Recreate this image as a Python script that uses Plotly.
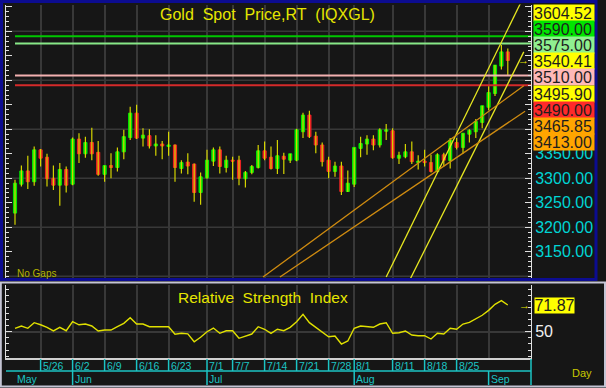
import numpy as np
import pandas as pd
import plotly.graph_objects as go

# ---------------- data ----------------
dates = pd.bdate_range("2025-05-20", "2025-09-04")

opens = [3229, 3288, 3315, 3293, 3358, 3343, 3300, 3286, 3318, 3288,
         3380, 3350, 3373, 3353, 3308, 3326, 3322, 3354, 3383, 3433,
         3382, 3387, 3366, 3370, 3365, 3368, 3320, 3333, 3329, 3271,
         3301, 3335, 3358, 3322, 3337, 3337, 3299, 3312, 3322, 3356,
         3343, 3320, 3345, 3337, 3337, 3395, 3429, 3386, 3368, 3337,
         3314, 3325, 3273, 3288, 3361, 3370, 3380, 3368, 3396, 3397,
         3341, 3344, 3354, 3332, 3335, 3332, 3314, 3348, 3336, 3373,
         3363, 3390, 3395, 3414, 3445, 3473, 3529, 3558]
highs = [3297, 3326, 3346, 3365, 3360, 3350, 3326, 3331, 3324, 3383,
         3392, 3385, 3403, 3376, 3326, 3351, 3363, 3399, 3446, 3450,
         3402, 3400, 3388, 3376, 3395, 3369, 3337, 3351, 3330, 3312,
         3358, 3363, 3365, 3346, 3344, 3346, 3315, 3327, 3368, 3375,
         3365, 3378, 3352, 3350, 3401, 3434, 3438, 3395, 3373, 3344,
         3334, 3334, 3316, 3363, 3385, 3388, 3388, 3402, 3411, 3402,
         3354, 3370, 3375, 3347, 3358, 3348, 3351, 3352, 3382, 3382,
         3392, 3400, 3421, 3448, 3488, 3531, 3572, 3565]
lows = [3205, 3283, 3278, 3285, 3324, 3283, 3276, 3244, 3271, 3286,
        3331, 3342, 3337, 3305, 3293, 3300, 3314, 3339, 3378, 3380,
        3365, 3361, 3346, 3339, 3346, 3293, 3310, 3308, 3252, 3246,
        3299, 3325, 3310, 3312, 3297, 3286, 3281, 3308, 3320, 3337,
        3318, 3309, 3309, 3331, 3335, 3382, 3382, 3351, 3324, 3300,
        3303, 3266, 3272, 3282, 3343, 3348, 3357, 3363, 3378, 3340,
        3329, 3341, 3329, 3318, 3324, 3312, 3312, 3324, 3320, 3359,
        3350, 3373, 3382, 3402, 3439, 3468, 3522, 3511]
closes = [3290, 3315, 3293, 3358, 3341, 3299, 3286, 3318, 3286, 3380,
          3350, 3373, 3350, 3308, 3326, 3322, 3354, 3385, 3433, 3382,
          3388, 3366, 3370, 3366, 3368, 3322, 3332, 3325, 3271, 3303,
          3337, 3358, 3324, 3337, 3335, 3300, 3312, 3324, 3356, 3341,
          3320, 3346, 3339, 3350, 3399, 3429, 3385, 3368, 3334, 3314,
          3325, 3273, 3290, 3363, 3371, 3380, 3368, 3399, 3399, 3342,
          3347, 3354, 3334, 3335, 3332, 3314, 3348, 3337, 3378, 3363,
          3392, 3398, 3416, 3448, 3475, 3531, 3558, 3540.41]
rsi = [52.8, 54.7, 52.8, 57.4, 55.7, 53.6, 50.6, 53.6, 50.8, 58.2,
       55.7, 56.3, 54.7, 50.6, 51.4, 51.4, 54.1, 56.9, 61.5, 56.3,
       56.3, 54.1, 54.1, 54.1, 54.1, 47.9, 48.7, 48.2, 41.8, 45.4,
       50.0, 53.0, 48.7, 50.8, 50.8, 44.6, 46.5, 48.1, 54.1, 52.0,
       48.7, 52.0, 50.8, 53.6, 58.2, 64.3, 57.4, 53.6, 49.2, 45.9,
       46.5, 39.9, 42.4, 52.8, 54.7, 54.1, 53.6, 56.3, 57.4, 48.7,
       49.2, 50.6, 47.3, 46.7, 46.7, 44.0, 48.7, 48.1, 52.8, 52.0,
       56.3, 57.7, 60.5, 63.5, 67.5, 72.5, 75.5, 71.87]

# date-row labels (tick labels)
week_label_dates = ["2025-05-26", "2025-06-02", "2025-06-09", "2025-06-16", "2025-06-23",
                    "2025-07-01", "2025-07-07", "2025-07-14", "2025-07-21", "2025-07-28",
                    "2025-08-01", "2025-08-11", "2025-08-18", "2025-08-25"]
month_label_dates = ["2025-05-20", "2025-06-02", "2025-07-01", "2025-08-01", "2025-09-01"]

# horizontal price levels
level_values = [3590.00, 3575.00, 3510.00, 3490.00]
level_colors = ["#00c800", "#88e888", "#f2b0b0", "#d42a2a"]

# trend lines: (start index, start price, end index, end price)
trend_x0 = [58.0, 61.7, 38.75, 41.4]
trend_p0 = [3098.5, 3093.0, 3098.5, 3098.5]
trend_x1 = [79.5, 79.5, 79.5, 79.7]
trend_p1 = [3671.0, 3558.0, 3489.0, 3437.0]
trend_colors = ["#e8e820", "#e8e820", "#d08c10", "#d08c10"]

# right-hand value boxes
box_values = [3604.52, 3590.00, 3575.00, 3540.41, 3510.00, 3495.90, 3490.00, 3465.85, 3413.00]
box_colors = ["#ffff00", "#00e400", "#90f090", "#ffff00", "#ffb8b8", "#ffff00", "#ff2a2a", "#ffa500", "#ffa500"]

# ---------------- geometry helpers ----------------
W, H = 606, 388
def px_x(x):
    return x / W
def px_y(y):
    return 1 - y / H

idx = list(range(len(dates)))
X_MIN, X_MAX = -1.406, 80.625
P_MIN, P_MAX = 3096.5, 3654.7
R_MIN, R_MAX = 28.2, 88.3

pos = {d.strftime("%Y-%m-%d"): i for i, d in enumerate(dates)}
week_idx = [pos[d] for d in week_label_dates]
month_idx = [pos[d] for d in month_label_dates]
grid_idx = sorted(set(week_idx + month_idx[1:]))

BG = "#161616"
GRID = "#383838"
AXIS = "#e0e0e0"
CYAN = "#00d4d4"
DCYAN = "#1cc4c4"
YEL = "#e6e600"
FONT = "Arial"

fig = go.Figure()

# wicks
wx, wy = [], []
for i, (h, l) in enumerate(zip(highs, lows)):
    wx += [i, i, None]
    wy += [l, h, None]
fig.add_trace(go.Scatter(x=wx, y=wy, mode="lines", line=dict(color="#d4d400", width=1.2),
                         hoverinfo="skip", showlegend=False, xaxis="x", yaxis="y"))

# horizontal levels
for lv, col in zip(level_values, level_colors):
    fig.add_trace(go.Scatter(x=[idx[0], X_MAX], y=[lv, lv], mode="lines",
                             line=dict(color=col, width=2), hoverinfo="skip",
                             showlegend=False, xaxis="x", yaxis="y"))

# trend lines
for x0, p0, x1, p1, c in zip(trend_x0, trend_p0, trend_x1, trend_p1, trend_colors):
    fig.add_trace(go.Scatter(x=[x0, x1], y=[p0, p1], mode="lines",
                             line=dict(color=c, width=1.3), hoverinfo="skip",
                             showlegend=False, xaxis="x", yaxis="y"))

# candle bodies
o = np.array(opens, float)
c = np.array(closes, float)
fig.add_trace(go.Candlestick(
    x=idx, open=o, close=c, high=np.maximum(o, c), low=np.minimum(o, c),
    increasing=dict(line=dict(color="#00ee00", width=1), fillcolor="#00ee00"),
    decreasing=dict(line=dict(color="#f02424", width=1), fillcolor="#f02424"),
    whiskerwidth=0, hoverinfo="skip", showlegend=False, xaxis="x", yaxis="y"))

# RSI
fig.add_trace(go.Scatter(x=idx, y=rsi, mode="lines", line=dict(color="#e0e000", width=1.4),
                         hoverinfo="skip", showlegend=False, xaxis="x2", yaxis="y2"))

shapes = []
# horizontal grid every 100 in price pane
for v in np.arange(3100, 3700, 100):
    shapes.append(dict(type="line", xref="x domain", x0=0, x1=1, yref="y", y0=v, y1=v,
                       line=dict(color=GRID, width=1.5), layer="below"))

# frames
shapes.append(dict(type="rect", xref="paper", yref="paper", x0=px_x(1.5), x1=px_x(596),
                   y0=px_y(279.5), y1=px_y(1.5), line=dict(color="#0c0c90", width=3)))
shapes.append(dict(type="rect", xref="paper", yref="paper", x0=px_x(0.8), x1=px_x(605),
                   y0=px_y(386.5), y1=px_y(282.5), line=dict(color="#c4c4d4", width=2)))

# date-row separators
shapes.append(dict(type="line", xref="paper", yref="paper", x0=px_x(6), x1=px_x(531),
                   y0=px_y(371), y1=px_y(371), line=dict(color=DCYAN, width=1.5)))
for i in week_idx:
    shapes.append(dict(type="line", xref="x2", yref="paper", x0=i, x1=i,
                       y0=px_y(359), y1=px_y(371), line=dict(color=DCYAN, width=1.5)))
for i in month_idx[1:]:
    shapes.append(dict(type="line", xref="x2", yref="paper", x0=i, x1=i,
                       y0=px_y(371), y1=px_y(385), line=dict(color=DCYAN, width=1.5)))
shapes.append(dict(type="line", xref="paper", yref="paper", x0=px_x(531), x1=px_x(531),
                   y0=px_y(359), y1=px_y(385), line=dict(color=DCYAN, width=1.5)))

ann = []
# titles
ann.append(dict(text="Gold\u00a0 Spot\u00a0 Price,RT\u00a0 (IQXGL)", x=px_x(267), y=px_y(14.5),
                xref="paper", yref="paper", showarrow=False, xanchor="center", yanchor="middle",
                font=dict(family=FONT, size=16, color=YEL)))
ann.append(dict(text="Relative\u00a0 Strength\u00a0 Index", x=px_x(263), y=px_y(297.5),
                xref="paper", yref="paper", showarrow=False, xanchor="center", yanchor="middle",
                font=dict(family=FONT, size=15.5, color=YEL)))
ann.append(dict(text="No Gaps", x=px_x(15), y=px_y(273.5), xref="paper", yref="paper",
                showarrow=False, xanchor="left", yanchor="middle",
                font=dict(family=FONT, size=10, color="#b4b400")))
ann.append(dict(text="Day", x=px_x(582), y=px_y(372.5), xref="paper", yref="paper",
                showarrow=False, xanchor="center", yanchor="middle",
                font=dict(family=FONT, size=11, color="#c8c800")))

# value boxes (stacked, contiguous)
BOX_TOP, BOX_H = 4.5, 16.2
for k, (v, col) in enumerate(zip(box_values, box_colors)):
    yc = BOX_TOP + BOX_H * (k + 0.5)
    ann.append(dict(text=f"{v:.2f}", x=px_x(533), y=px_y(yc), xref="paper", yref="paper",
                    showarrow=False, xanchor="left", yanchor="middle", align="left",
                    width=60, height=BOX_H, borderpad=0, bgcolor=col,
                    font=dict(family=FONT, size=16, color="#1e1e1e")))
ann.append(dict(text=f"{rsi[-1]:.2f}", x=px_x(534), y=rsi[-1], xref="paper", yref="y2",
                showarrow=False, xanchor="left", yanchor="middle",
                width=39, height=15, borderpad=0, bgcolor="#ffff00",
                font=dict(family=FONT, size=16, color="#1e1e1e")))
# last-value arrows
ann.append(dict(text="\u2192", x=px_x(523), y=closes[-1], xref="paper", yref="y",
                showarrow=False, xanchor="center", yanchor="middle",
                font=dict(family=FONT, size=11, color=YEL)))
ann.append(dict(text="\u2192", x=px_x(524), y=rsi[-1], xref="paper", yref="y2",
                showarrow=False, xanchor="center", yanchor="middle",
                font=dict(family=FONT, size=11, color=YEL)))

# date labels
DFONT = "Liberation Sans Narrow, Arial Narrow, Arial"
for i in week_idx:
    d = dates[i]
    ann.append(dict(text=f"{d.month}/{d.day}", x=i, y=px_y(366), xref="x2", yref="paper",
                    showarrow=False, xanchor="left", yanchor="middle", xshift=0,
                    font=dict(family=DFONT, size=10.5, color=DCYAN)))
for i in month_idx:
    ann.append(dict(text=dates[i].strftime("%b"), x=i, y=px_y(378.5), xref="x2", yref="paper",
                    showarrow=False, xanchor="left", yanchor="middle", xshift=0,
                    font=dict(family=DFONT, size=10.5, color=DCYAN)))

price_ticks = list(np.arange(3150, 3651, 50))
price_text = [f"{v:.2f}" if v <= 3350 else "" for v in price_ticks]

fig.update_layout(
    width=W, height=H, margin=dict(l=0, r=0, t=0, b=0),
    paper_bgcolor=BG, plot_bgcolor=BG, showlegend=False,
    shapes=shapes, annotations=ann,
    xaxis=dict(domain=[px_x(6), px_x(531)], range=[X_MIN, X_MAX], anchor="y",
               tickmode="array", tickvals=grid_idx, showticklabels=False, ticks="",
               showgrid=True, gridcolor=GRID, gridwidth=1.5, zeroline=False, showline=False,
               rangeslider=dict(visible=False)),
    yaxis=dict(domain=[px_y(278), px_y(4.5)], range=[P_MIN, P_MAX], anchor="x", side="right",
               tickmode="array", tickvals=price_ticks, ticktext=price_text,
               ticks="inside", ticklen=6, tickcolor=AXIS, tickwidth=1,
               showline=True, linecolor=AXIS, linewidth=1, mirror="ticks",
               showgrid=False, zeroline=False,
               tickfont=dict(family=FONT, size=16, color=CYAN),
               minor=dict(tickmode="linear", tick0=3000, dtick=10, ticks="inside", ticklen=3,
                          tickcolor=AXIS, showgrid=False)),
    xaxis2=dict(domain=[px_x(6), px_x(531)], range=[X_MIN, X_MAX], anchor="y2",
                tickmode="array", tickvals=grid_idx, showticklabels=False, ticks="",
                showgrid=True, gridcolor=GRID, gridwidth=1.5, zeroline=False,
                showline=True, linecolor="#d0d0d0", linewidth=1.5),
    yaxis2=dict(domain=[px_y(358.3), px_y(285)], range=[R_MIN, R_MAX], anchor="x2", side="right",
                tickmode="array", tickvals=[50], ticktext=["50"],
                ticks="inside", ticklen=6, tickcolor=AXIS,
                showline=True, linecolor=AXIS, linewidth=1, mirror="ticks",
                showgrid=True, gridcolor=GRID, gridwidth=1.5, zeroline=False,
                tickfont=dict(family=FONT, size=16, color="#f0f0f0"),
                minor=dict(tickmode="linear", tick0=0, dtick=5, ticks="inside", ticklen=3,
                           tickcolor=AXIS, showgrid=False)),
)

fig.write_html("out.html")
